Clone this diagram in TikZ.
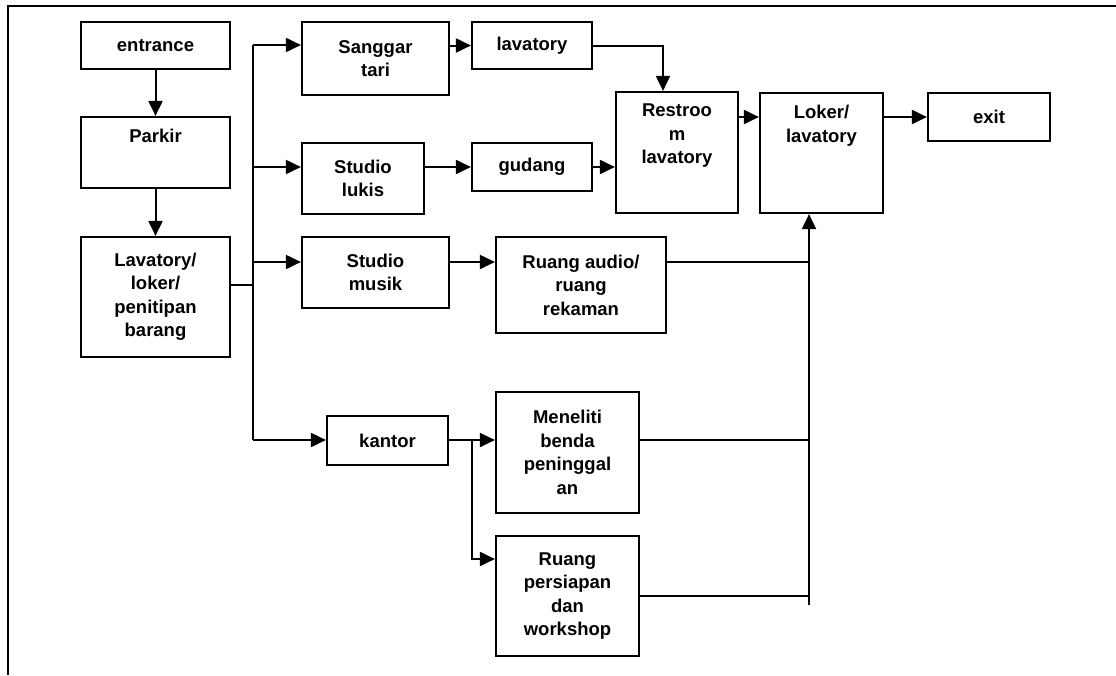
\documentclass[tikz,border=0pt]{standalone}
\usepackage{fontspec}
\setmainfont{Liberation Sans}
\usetikzlibrary{arrows.meta}
\begin{document}
\begin{tikzpicture}[x=1pt,y=-1pt,
  box/.style={draw, line width=2.2pt, rectangle, inner sep=0pt},
  txt/.style={font=\bfseries\fontsize{18.5}{23.5}\selectfont, align=center, inner sep=0pt},
  conn/.style={line width=2pt},
  arr/.style={line width=2pt, -{Triangle[length=15pt,width=14pt]}}]
\useasboundingbox (0,0) rectangle (1116,675);
\draw[line width=2.5pt] (1116,6) -- (8,6) -- (8,675);
% boxes: center, width, height
\newcommand{\bx}[6]{\node[box, minimum width=#4pt, minimum height=#5pt] (#1) at (#2,#3) {};\node[txt] (#1-t) at (#1.center) {#6};}
\newcommand{\bxt}[6]{\node[box, minimum width=#4pt, minimum height=#5pt] (#1) at (#2,#3) {};\node[txt, anchor=north] (#1-t) at ([yshift=-13pt]#1.north) {#6};}
\bx{ent}{155.5}{45.5}{149}{47}{entrance}
\bxt{park}{155.5}{152.5}{149}{71}{Parkir}
\bx{lav}{155.5}{297}{149}{120}{Lavatory/\\loker/\\penitipan\\barang}
\bx{sang}{375.5}{58.5}{147}{73}{Sanggar\\tari}
\bx{luk}{363}{178.5}{122}{71}{Studio\\lukis}
\bx{mus}{375.5}{272.5}{147}{71}{Studio\\musik}
\bx{kan}{387.5}{440.5}{121}{49}{kantor}
\bx{lavt}{532}{45.5}{120}{47}{lavatory}
\bx{gud}{532}{167}{120}{48}{gudang}
\bxt{rest}{677}{152.5}{122}{121}{Restroo\\m\\lavatory}
\bx{aud}{581}{285}{170}{96}{Ruang audio/\\ruang\\rekaman}
\bxt{lok}{821.5}{153}{123}{120}{Loker/\\lavatory}
\bx{ex}{989}{117}{122}{48}{exit}
\bx{men}{567.5}{452.5}{143}{121}{Meneliti\\benda\\peninggal\\an}
\bx{pers}{567.5}{596}{143}{120}{Ruang\\persiapan\\dan\\workshop}
% coordinates
\coordinate (bt) at (253,45);
\coordinate (bl) at (253,167);
\coordinate (bm) at (253,262);
\coordinate (bj) at (253,285);
\coordinate (bk) at (253,440);
\coordinate (r1) at (663,45.5);
\coordinate (v0) at (809,605);
\coordinate (k1) at (472,440);
\coordinate (k2) at (472,559);
% connectors
\draw[arr] (ent) -- (park);
\draw[arr] (park) -- (lav);
\draw[conn] (lav.east |- bj) -- (bj);
\draw[conn] (bt) -- (bk);
\draw[arr] (bt) -- (sang.west |- bt);
\draw[arr] (bl) -- (luk.west |- bl);
\draw[arr] (bm) -- (mus.west |- bm);
\draw[arr] (bk) -- (kan.west |- bk);
\draw[arr] (sang.east |- lavt.west) -- (lavt.west);
\draw[arr] (lavt.east) -- (r1) -- (r1 |- rest.north);
\draw[arr] (luk.east |- gud.west) -- (gud.west);
\draw[arr] (gud.east) -- (rest.west |- gud.east);
\draw[arr] (rest.east |- ex.west) -- (lok.west |- ex.west);
\draw[arr] (lok.east |- ex.west) -- (ex.west);
\draw[arr] (mus.east |- bm) -- (aud.west |- bm);
\draw[conn] (aud.east |- bm) -- (v0 |- bm);
\draw[arr] (v0) -- (v0 |- lok.south);
\draw[arr] (kan.east |- k1) -- (men.west |- k1);
\draw[arr] (k1) -- (k2) -- (pers.west |- k2);
\draw[conn] (men.east |- k1) -- (v0 |- k1);
\draw[conn] (pers.east) -- (v0 |- pers.east);
\end{tikzpicture}
\end{document}
